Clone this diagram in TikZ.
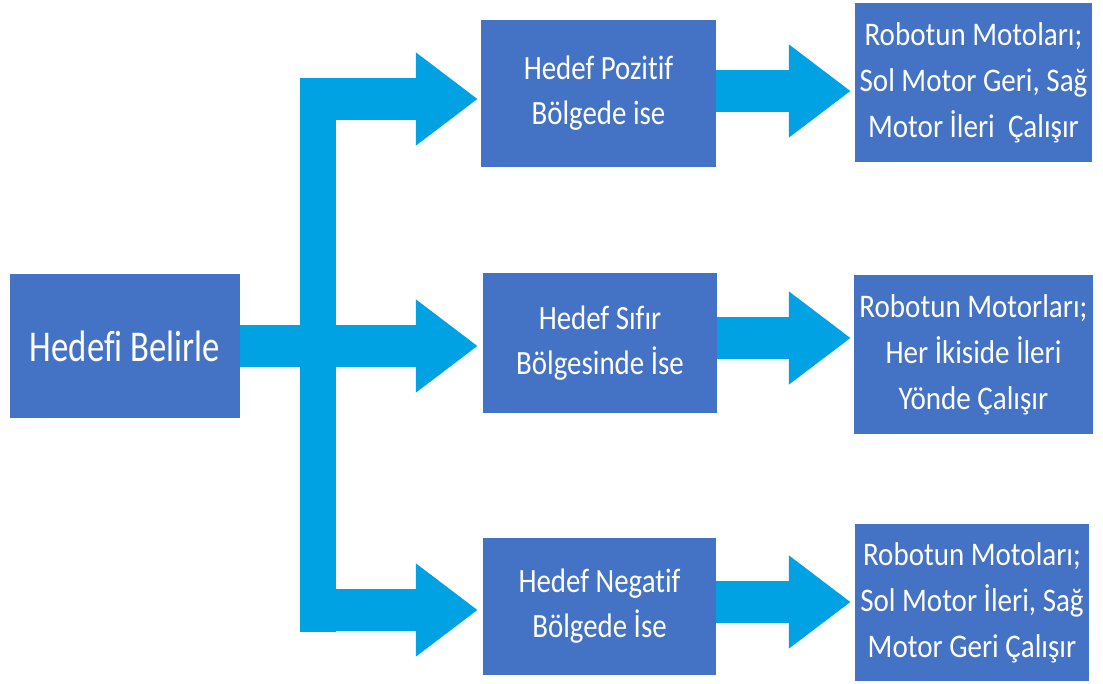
\documentclass[tikz,border=0pt]{standalone}
\usepackage{fontspec}
\setmainfont{Carlito}[Ligatures=NoCommon]
\newfontfamily\fontL{Carlito}[FakeStretch=0.79,Ligatures=NoCommon]
\newfontfamily\fontM{Carlito}[FakeStretch=0.85,Ligatures=NoCommon]
\newfontfamily\fontR{Carlito}[FakeStretch=0.88,Ligatures=NoCommon]
\usetikzlibrary{arrows.meta}
\definecolor{boxblue}{RGB}{68,114,196}
\definecolor{arrowblue}{RGB}{0,162,228}
\begin{document}
\begin{tikzpicture}[x=1pt,y=-1pt,
  box/.style={fill=boxblue, text=white, inner sep=0pt, align=center},
  lbox/.style={box, font=\fontL\fontsize{44}{50}\selectfont},
  mbox/.style={box, font=\fontM\fontsize{34}{45}\selectfont},
  rbox/.style={box, font=\fontR\fontsize{33}{46}\selectfont},
  blockarrow/.style={draw=arrowblue, line width=42pt, -{Triangle[length=62pt,width=89pt]}},
]
\useasboundingbox (0,0) rectangle (1103,683);
% boxes
\node[lbox, minimum width=230pt, minimum height=144pt] (L) at (125,346) {Hedefi Belirle};
\node[mbox, minimum width=235pt, minimum height=147pt] (M1) at (598.5,93.5) {Hedef Pozitif\\Bölgede ise};
\node[mbox, minimum width=234pt, minimum height=140pt] (M2) at (600,343) {Hedef Sıfır\\Bölgesinde İse};
\node[mbox, minimum width=233pt, minimum height=137pt] (M3) at (599.5,606.5) {Hedef Negatif\\Bölgede İse};
\node[rbox, minimum width=237pt, minimum height=159pt] (R1) at (973.5,82.5) {Robotun Motoları;\\Sol Motor Geri, Sağ\\Motor İleri\ \ Çalışır};
\node[rbox, minimum width=239pt, minimum height=159pt] (R2) at (973.5,354.5) {Robotun Motorları;\\Her İkiside İleri\\Yönde Çalışır};
\node[rbox, minimum width=234pt, minimum height=157pt] (R3) at (972,602.5) {Robotun Motoları;\\Sol Motor İleri, Sağ\\Motor Geri Çalışır};
% branching arrow
\coordinate (bt) at (300,78);
\coordinate (bb) at (336,632);
\coordinate (t1) at (300,99);
\coordinate (t3) at (300,610);
\fill[arrowblue] (bt) rectangle (bb);
\draw[blockarrow, shorten >=3pt] (t1) -- (t1 -| M1.west);
\draw[blockarrow, shorten >=5pt] (L.east) -- (L.east -| M2.west);
\draw[blockarrow, shorten >=5pt] (t3) -- (t3 -| M3.west);
% right arrows
\coordinate (y1) at (0,91);
\coordinate (y2) at (0,338);
\coordinate (y3) at (0,602);
\draw[blockarrow, shorten >=4pt] (M1.east |- y1) -- (R1.west |- y1);
\draw[blockarrow, shorten >=3pt] (M2.east |- y2) -- (R2.west |- y2);
\draw[blockarrow, shorten >=4pt] (M3.east |- y3) -- (R3.west |- y3);
\end{tikzpicture}
\end{document}
